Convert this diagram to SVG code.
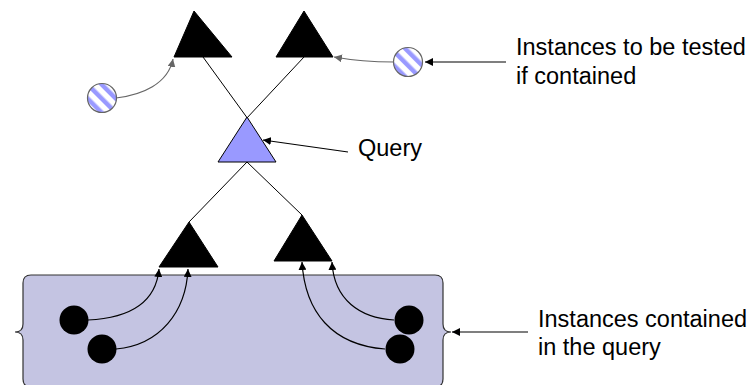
<svg xmlns="http://www.w3.org/2000/svg" width="756" height="385" viewBox="0 0 756 385">
<style>
text{font-family:"Liberation Sans",Arial,sans-serif;font-size:23.5px;fill:#000}
.tri{fill:#000;stroke:#000;stroke-width:1}
.q{fill:#9999ff;stroke:#000;stroke-width:1}
.ln{fill:none;stroke:#000;stroke-width:1}
.ga{fill:none;stroke:#666;stroke-width:1.2;marker-end:url(#ag)}
.ba{fill:none;stroke:#000;stroke-width:1.2;marker-end:url(#ab)}
.la{fill:none;stroke:#000;stroke-width:1.2;marker-end:url(#ab)}
.dot{fill:#000}
.st{fill:url(#stripes);stroke:#666;stroke-width:1.2}
</style>
<defs>
<marker id="ab" viewBox="0 0 10 10" refX="10" refY="5" markerWidth="8" markerHeight="8" markerUnits="userSpaceOnUse" orient="auto"><path d="M0,0 L10,5 L0,10 z" fill="#000"/></marker>
<marker id="ag" viewBox="0 0 10 10" refX="10" refY="5" markerWidth="8" markerHeight="8" markerUnits="userSpaceOnUse" orient="auto"><path d="M0,0 L10,5 L0,10 z" fill="#666"/></marker>
<pattern id="stripes" width="10" height="10" patternUnits="userSpaceOnUse" patternTransform="rotate(-45)">
<rect width="10" height="10" fill="#fff"/>
<rect width="4.5" height="10" fill="#9999ff"/>
</pattern>
</defs>
<g id="container">
<path d="M31,275 L435,275 Q443,275 443,283 L443,324 Q443,332 451,332 Q443,332 443,340 L443,379 Q443,387 435,387 L31,387 Q23,387 23,379 L23,340 Q23,332 15,332 Q23,332 23,324 L23,283 Q23,275 31,275 Z" fill="#c4c4e2" stroke="#333" stroke-width="1.2"/>
</g>
<g id="connectors">
<path class="ln" d="M203,57 L248,119"/>
<path class="ln" d="M304,57 L246,119"/>
<path class="ln" d="M247,162 L189,222"/>
<path class="ln" d="M247,162 L302,215"/>
<path class="ga" d="M116,98 C142,95 168,84 173,59"/>
<path class="ga" d="M394,62 Q362,62 334,57"/>
<path class="ba" d="M88,320 C130,318 156,302 159,269"/>
<path class="ba" d="M116,349 C160,345 186,312 188,269"/>
<path class="ba" d="M394,320 C360,318 334,300 332,262"/>
<path class="ba" d="M385,349 C332,345 305,312 302,262"/>
<path class="la" d="M506,62 L425,62"/>
<path class="la" d="M348,152 L263,140"/>
<path class="la" d="M528,332 L452,332"/>
</g>
<g id="tri-top-left"><polygon class="tri" points="194,11 232,57 174,57"/></g>
<g id="tri-top-right"><polygon class="tri" points="304,11 333,57 276,57"/></g>
<g id="query"><polygon class="q" points="247,117 276,162 218,162"/></g>
<g id="tri-low-left"><polygon class="tri" points="189,222 218,267 159,267"/></g>
<g id="tri-low-right"><polygon class="tri" points="302,215 332,261 274,261"/></g>
<g id="test-left"><circle class="st" cx="102" cy="98" r="14.5"/></g>
<g id="test-right"><circle class="st" cx="408" cy="62" r="14.5"/></g>
<g id="inst-1"><circle class="dot" cx="74" cy="320" r="14.5"/></g>
<g id="inst-2"><circle class="dot" cx="102" cy="349" r="14.5"/></g>
<g id="inst-3"><circle class="dot" cx="409" cy="320" r="14.5"/></g>
<g id="inst-4"><circle class="dot" cx="400" cy="349" r="14.5"/></g>
<g id="label-query"><text x="358" y="156">Query</text></g>
<g id="label-tested"><text x="516" y="55">Instances to be tested</text><text x="516" y="84">if contained</text></g>
<g id="label-contained"><text x="538" y="327">Instances contained</text><text x="538" y="355">in the query</text></g>
</svg>
